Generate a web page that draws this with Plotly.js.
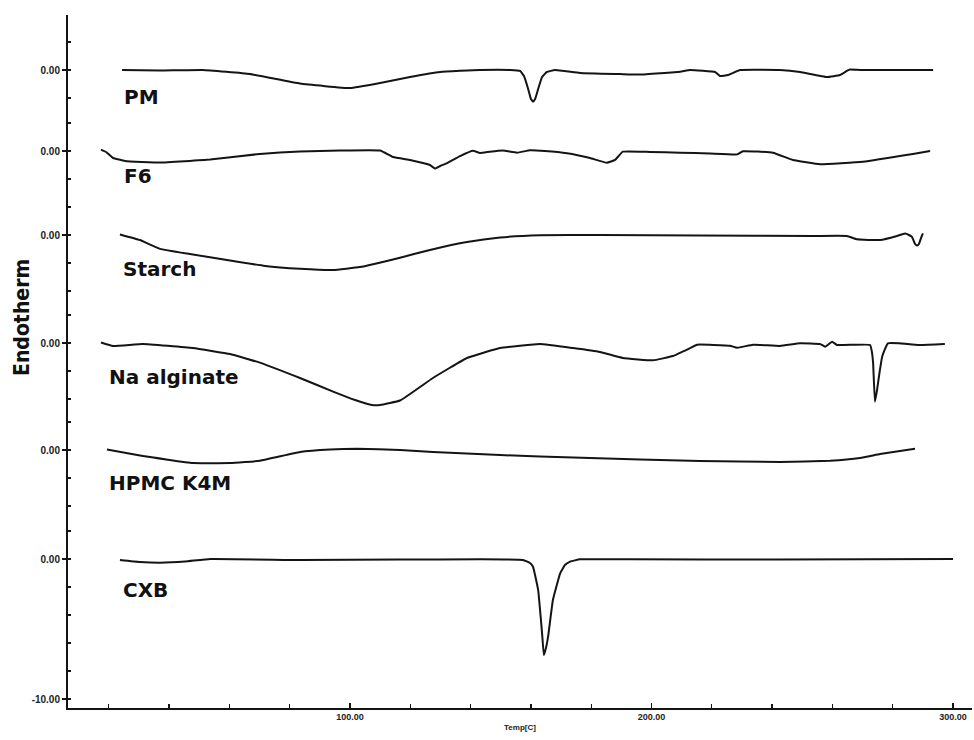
<!DOCTYPE html>
<html>
<head>
<meta charset="utf-8">
<script src="https://cdn.plot.ly/plotly-3.0.1.min.js"></script>
<style>html,body{margin:0;padding:0;background:#fff;}#chart{width:974px;height:740px;}</style>
</head>
<body>
<div id="chart"></div>
<script>
// ---------------- DATA ----------------
const sampleNames = ['PM', 'F6', 'Starch', 'Na alginate', 'HPMC K4M', 'CXB'];

const pmTemp = [24.4, 37.0, 51.2, 66.8, 83.4, 100, 110, 119.9, 129.9, 143.1, 153.1, 156.4, 157.7, 159.0, 160.0, 160.7, 161.4, 162.4, 163.7, 165.3, 168.0, 176.3, 189.6, 196.2, 209.5, 212.8, 221.1, 222.7, 225.4, 229.4, 242.6, 249.3, 258.2, 262.5, 264.8, 265.8, 269.2, 293.4];
const pmHeat = [0, -0.04, 0, -0.29, -0.97, -1.29, -0.93, -0.5, -0.14, 0, 0, -0.07, -0.43, -1.29, -2.07, -2.26, -2.07, -1.36, -0.5, -0.14, 0, -0.21, -0.29, -0.33, -0.12, 0, -0.14, -0.43, -0.36, 0, 0, -0.14, -0.5, -0.36, -0.07, 0.03, 0, 0];

const f6Temp = [17.4, 19.1, 21.4, 25.4, 37.0, 53.6, 70.1, 83.4, 96.7, 110.0, 114.3, 119.9, 124.2, 126.5, 128.2, 129.9, 132.2, 136.5, 140.8, 143.1, 146.4, 150.7, 155.4, 159.7, 164.7, 172.0, 179.6, 185.2, 187.9, 190.5, 199.5, 209.5, 219.4, 228.4, 230.3, 240.3, 246.9, 255.9, 270.1, 286.7, 292.4];
const f6Heat = [0.1, -0.07, -0.5, -0.71, -0.83, -0.61, -0.21, -0.03, 0.04, 0.04, -0.43, -0.64, -0.86, -1.0, -1.25, -1.07, -0.86, -0.36, 0.02, -0.14, -0.05, 0.03, -0.12, 0.05, 0, -0.16, -0.5, -0.84, -0.64, -0.05, -0.07, -0.12, -0.18, -0.24, -0.02, -0.12, -0.64, -0.95, -0.76, -0.21, 0];

const starchTemp = [23.7, 30.3, 37.0, 46.9, 59.2, 71.8, 83.4, 94.4, 103.3, 116.6, 126.5, 138.8, 149.8, 163.0, 182.9, 216.1, 253.6, 264.8, 268.2, 275.8, 281.4, 284.1, 285.4, 286.4, 287.4, 288.1, 288.7, 289.4, 290.0];
const starchHeat = [0.04, -0.36, -0.99, -1.36, -1.79, -2.21, -2.41, -2.5, -2.29, -1.62, -1.07, -0.5, -0.18, -0.02, 0, -0.04, -0.07, -0.07, -0.31, -0.36, -0.07, 0.11, 0, -0.14, -0.64, -0.75, -0.64, -0.21, 0.12];

const alginateTemp = [17.4, 21.4, 31.3, 47.9, 60.2, 70.1, 83.4, 94.4, 101.7, 107.3, 110.0, 116.6, 127.5, 138.8, 149.8, 163.0, 174.0, 182.9, 190.5, 200.5, 207.1, 212.8, 215.1, 226.0, 228.4, 233.7, 242.6, 249.3, 255.9, 257.6, 259.9, 261.5, 272.5, 273.1, 273.5, 274.1, 274.8, 275.5, 276.5, 278.4, 289.1, 297.3];
const alginateHeat = [0.04, -0.21, -0.07, -0.36, -0.79, -1.4, -2.5, -3.47, -4.07, -4.43, -4.43, -4.11, -2.5, -1.07, -0.36, -0.07, -0.36, -0.64, -1.07, -1.24, -0.93, -0.36, -0.12, -0.19, -0.34, -0.12, -0.21, -0.02, -0.07, -0.26, 0.09, -0.14, -0.14, -0.64, -1.43, -4.19, -3.36, -2.29, -0.98, -0.02, -0.14, -0.07];

const hpmcTemp = [19.4, 31.3, 47.9, 60.2, 70.1, 83.4, 93.4, 102.3, 116.6, 127.5, 149.8, 163.0, 196.2, 216.1, 242.6, 259.2, 269.2, 275.8, 282.4, 287.4];
const hpmcHeat = [0.03, -0.43, -0.93, -0.93, -0.77, -0.14, 0.04, 0.09, 0, -0.14, -0.36, -0.46, -0.68, -0.79, -0.86, -0.77, -0.57, -0.29, -0.07, 0.09];

const cxbTemp = [23.7, 30.3, 37.0, 45.3, 53.6, 83.4, 116.6, 143.1, 157.4, 159.7, 160.7, 162.4, 163.7, 164.3, 165.0, 165.7, 167.3, 169.7, 171.3, 173.0, 176.3, 192.9, 242.6, 300.0];
const cxbHeat = [-0.07, -0.21, -0.26, -0.18, 0, -0.07, -0.04, -0.02, -0.07, -0.29, -0.55, -2.21, -5.29, -6.86, -6.36, -5.55, -2.93, -1.02, -0.43, -0.19, -0.02, -0.02, -0.04, 0];

const xTickVals = [100, 200, 300];
const xTickText = ['100.00', '200.00', '300.00'];
const baseTickVals = [0];
const baseTickText = ['0.00'];
const bottomTickVals = [0, -10];
const bottomTickText = ['0.00', '-10.00'];
const xTitle = 'Temp[C]';
const yTitle = 'Endotherm';

// ---------------- LAYOUT GEOMETRY (styles/positions) ----------------
const W = 974, H = 740;
const M = {l: 68, r: 2, t: 15, b: 32};
const plotH = H - M.t - M.b;
const pxPerUnit = 14;       // vertical pixels per unit of heat flow
const xRange = [6.47, 306.3];

// panels from top to bottom: pixel top, bottom, baseline
const panels = [
  {axis: 'y6', top: 15,  bottom: 110, base: 70,  label: {x: 24.4, y: -1.93}},
  {axis: 'y5', top: 110, bottom: 190, base: 151, label: {x: 24.4, y: -1.79}},
  {axis: 'y4', top: 190, bottom: 300, base: 235, label: {x: 24.1, y: -2.43}},
  {axis: 'y3', top: 300, bottom: 420, base: 343, label: {x: 19.4, y: -2.43}},
  {axis: 'y2', top: 420, bottom: 515, base: 450, label: {x: 19.4, y: -2.36}},
  {axis: 'y',  top: 515, bottom: 708, base: 559, label: {x: 24.1, y: -2.21}}
];
const seriesX = [pmTemp, f6Temp, starchTemp, alginateTemp, hpmcTemp, cxbTemp];
const seriesY = [pmHeat, f6Heat, starchHeat, alginateHeat, hpmcHeat, cxbHeat];

const ink = '#141414';
const tickFont = {family: 'Liberation Sans, Arial, sans-serif', size: 10, color: '#222', weight: 'bold'};

const traces = [];
const annotations = [];
const layout = {
  width: W, height: H,
  margin: M,
  paper_bgcolor: '#fff', plot_bgcolor: '#fff',
  showlegend: false,
  xaxis: {
    domain: [0, 1], range: xRange, anchor: 'y',
    showline: true, linecolor: ink, linewidth: 1.5,
    showgrid: false, zeroline: false,
    tickmode: 'array', tickvals: xTickVals, ticktext: xTickText,
    ticks: 'inside', ticklen: 5, tickwidth: 1.2, tickcolor: ink,
    tickfont: {family: 'Liberation Sans, Arial, sans-serif', size: 9, color: '#222', weight: 'bold'},
    minor: {tickmode: 'linear', tick0: 0, dtick: 20, ticks: 'inside', ticklen: 4, tickwidth: 1.2, tickcolor: ink, showgrid: false},
    title: {text: '<b>' + xTitle + '</b>', font: {family: 'Liberation Sans, Arial, sans-serif', size: 8, color: '#222'}, standoff: 3}
  },
  annotations: annotations
};

panels.forEach((p, i) => {
  const d0 = (M.t + plotH - p.bottom) / plotH;
  const d1 = (M.t + plotH - p.top) / plotH;
  const r0 = -(p.bottom - p.base) / pxPerUnit;
  const r1 = (p.base - p.top) / pxPerUnit;
  const key = p.axis === 'y' ? 'yaxis' : 'yaxis' + p.axis.slice(1);
  const isBottom = p.axis === 'y';
  layout[key] = {
    domain: [Math.max(0, d0), Math.min(1, d1)], range: [r0, r1], anchor: 'x',
    showline: true, linecolor: ink, linewidth: 2,
    showgrid: false, zeroline: false,
    tickmode: 'array',
    tickvals: isBottom ? bottomTickVals : baseTickVals,
    ticktext: isBottom ? bottomTickText : baseTickText,
    ticks: 'outside', ticklen: 4, tickwidth: 1.2, tickcolor: ink,
    tickfont: tickFont,
    minor: {tickmode: 'linear', tick0: 0, dtick: 2, ticks: 'inside', ticklen: 3, tickwidth: 1.2, tickcolor: ink, showgrid: false},
    fixedrange: true
  };
  traces.push({
    type: 'scatter', mode: 'lines',
    x: seriesX[i], y: seriesY[i],
    xaxis: 'x', yaxis: p.axis,
    line: {color: ink, width: 2, shape: 'spline', smoothing: 0.3},
    hoverinfo: 'skip', name: sampleNames[i]
  });
  annotations.push({
    xref: 'x', yref: p.axis, x: p.label.x, y: p.label.y,
    xanchor: 'left', yanchor: 'middle', showarrow: false,
    text: sampleNames[i],
    font: {family: 'DejaVu Sans, Verdana, sans-serif', size: 20, color: '#111', weight: 'bold'}
  });
});

annotations.push({
  xref: 'paper', yref: 'paper',
  x: (22 - M.l) / (W - M.l - M.r), y: (M.t + plotH - 318) / plotH,
  xanchor: 'center', yanchor: 'middle', showarrow: false, textangle: -90,
  text: yTitle,
  font: {family: 'Liberation Sans Narrow, DejaVu Sans Condensed, Arial Narrow, sans-serif', size: 21, color: '#111', weight: 'bold'}
});

Plotly.newPlot('chart', traces, layout, {staticPlot: true, displayModeBar: false});
</script>
</body>
</html>
